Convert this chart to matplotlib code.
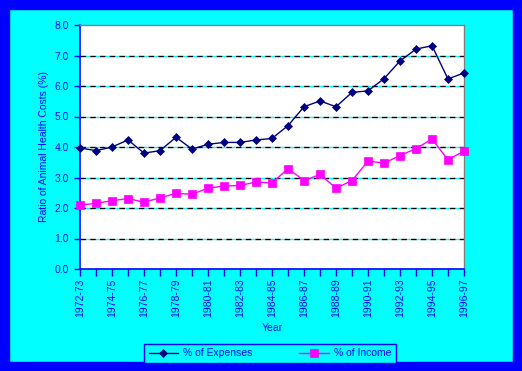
import numpy as np
import matplotlib.pyplot as plt
from matplotlib.patches import Rectangle

years = ['1972-73', '1973-74', '1974-75', '1975-76', '1976-77', '1977-78',
         '1978-79', '1979-80', '1980-81', '1981-82', '1982-83', '1983-84',
         '1984-85', '1985-86', '1986-87', '1987-88', '1988-89', '1989-90',
         '1990-91', '1991-92', '1992-93', '1993-94', '1994-95', '1995-96',
         '1996-97']
pct_expenses = [3.97, 3.88, 4.00, 4.23, 3.80, 3.88, 4.32, 3.93, 4.09, 4.15,
                4.15, 4.23, 4.28, 4.70, 5.32, 5.51, 5.32, 5.79, 5.84, 6.24,
                6.82, 7.21, 7.32, 6.23, 6.43]
pct_income = [2.10, 2.15, 2.24, 2.31, 2.19, 2.33, 2.48, 2.45, 2.65, 2.72,
              2.74, 2.85, 2.82, 3.29, 2.90, 3.10, 2.65, 2.90, 3.54, 3.47,
              3.72, 3.95, 4.26, 3.58, 3.87]
y_ticks = [0, 1, 2, 3, 4, 5, 6, 7, 8]

BLUE = '#0000ff'
CYAN = '#00ffff'
NAVY = '#000080'
MAGENTA = '#ff00ff'
FS = 7.5

plt.rcParams['font.family'] = ['Liberation Sans', 'DejaVu Sans']

fig = plt.figure(figsize=(5.22, 3.71), dpi=100, facecolor=CYAN)
W, H = 522, 371
# blue outer frame
fig.patches.append(Rectangle((0, 0), 1, 1, transform=fig.transFigure,
                             fill=False, edgecolor=BLUE, linewidth=14))

ax = fig.add_axes([80 / W, 1 - 269 / H, (464 - 80) / W, (269 - 25) / H])
ax.set_facecolor('white')

x = np.arange(len(years))
for yv in y_ticks[1:-1]:
    ax.axhline(yv, color='black', linestyle=(0, (4, 3)), gapcolor=CYAN,
               linewidth=1, zorder=1)

ax.plot(x, pct_expenses, color=NAVY, linewidth=1, marker='D', markersize=4.5,
        markeredgewidth=0.5, label='% of Expenses', zorder=3, clip_on=False)
ax.plot(x, pct_income, color=MAGENTA, linewidth=1, marker='s', markersize=5.5,
        markeredgewidth=0.5, label='% of Income', zorder=3, clip_on=False)

ax.set_xlim(0, len(years) - 1)
ax.set_ylim(0, 8)
ax.set_yticks(y_ticks)
ax.set_yticklabels(['%.1f' % v for v in y_ticks])
ax.set_xticks(x)
ax.set_xticklabels([y if i % 2 == 0 else '' for i, y in enumerate(years)],
                   rotation=90)
ax.tick_params(axis='x', direction='out', length=5, color=BLUE, width=1,
               labelsize=FS, labelcolor=BLUE, pad=2)
ax.tick_params(axis='y', direction='out', length=4, color=BLUE, width=1,
               labelsize=FS, labelcolor=BLUE, pad=4)

for side in ['left', 'bottom']:
    ax.spines[side].set_color(BLUE)
    ax.spines[side].set_linewidth(1.2)
for side in ['top', 'right']:
    ax.spines[side].set_color('gray')
    ax.spines[side].set_linewidth(1)

ax.set_xlabel('Year', color=BLUE, fontsize=FS, labelpad=4)
ax.set_ylabel('Ratio of Animal Health Costs (%)', color=BLUE, fontsize=FS,
              labelpad=4)

leg = fig.legend(loc='lower center', bbox_to_anchor=(270 / W, 1 - 363 / H),
                 ncol=2, fontsize=FS, frameon=True, fancybox=False,
                 edgecolor=BLUE, facecolor=CYAN, framealpha=1,
                 handlelength=2.8, handletextpad=0.5, columnspacing=4.5,
                 borderpad=0.45, borderaxespad=0)
for t in leg.get_texts():
    t.set_color(BLUE)
leg.get_frame().set_linewidth(1)

fig.savefig('out.png', dpi=100, facecolor=CYAN)
